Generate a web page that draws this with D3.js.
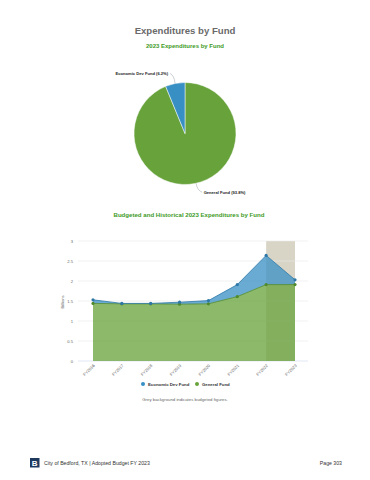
<!DOCTYPE html>
<html>
<head>
<meta charset="utf-8">
<script src="https://cdn.jsdelivr.net/npm/d3@7"></script>
<style>
  body { margin: 0; background: #fff; font-family: "Liberation Sans", Arial, sans-serif; }
  svg { display: block; }
</style>
</head>
<body>
<svg id="page" width="370" height="480"></svg>
<script>
// pie data (FY2023 share)
var pieFunds = ["Economic Dev Fund", "General Fund"];
var pieShares = [6.2, 93.8];

// historical + budgeted, in billions
var years = ["FY2016", "FY2017", "FY2018", "FY2019", "FY2020", "FY2021", "FY2022", "FY2023"];
var generalFund = [1.44, 1.43, 1.43, 1.42, 1.43, 1.61, 1.91, 1.91];
var econDevFund = [0.09, 0.01, 0.01, 0.05, 0.08, 0.30, 0.73, 0.12];
var budgetedYears = ["FY2022", "FY2023"];
var yTicks = [0, 0.5, 1, 1.5, 2, 2.5, 3];

var blue = "#388fc4", green = "#67a23a";

var svg = d3.select("#page");

// Titles
svg.append("text").attr("x", 185).attr("y", 34).attr("text-anchor", "middle")
  .attr("font-size", 9.6).attr("font-weight", "bold").attr("fill", "#6a6a6a")
  .text("Expenditures by Fund");
svg.append("text").attr("x", 185).attr("y", 48).attr("text-anchor", "middle")
  .attr("font-size", 6).attr("font-weight", "bold").attr("fill", "#3d9a1f")
  .text("2023 Expenditures by Fund");

// ---- Pie ----
var cx = 185, cy = 133.5, r = 51;
// general starts at 12 o'clock clockwise, econ dev fills the rest
var arcs = d3.pie().sort(null)(pieShares.slice().reverse());
var arc = d3.arc().innerRadius(0).outerRadius(r);
var pieG = svg.append("g").attr("transform", "translate(" + cx + "," + cy + ")");
var pieColors = [green, blue];
pieG.selectAll("path").data(arcs).enter().append("path")
  .attr("d", arc)
  .attr("fill", function(d, i) { return pieColors[i]; })
  .attr("stroke", "#fff").attr("stroke-width", 0.5);

// leader lines + labels
var econMid = (arcs[1].startAngle + arcs[1].endAngle) / 2;
var p1 = [Math.sin(econMid) * r, -Math.cos(econMid) * r];
pieG.append("path")
  .attr("d", "M" + p1[0] + "," + p1[1] + " Q" + (p1[0] - 1) + "," + (p1[1] - 8) + " " + (p1[0] - 5) + "," + (p1[1] - 10))
  .attr("fill", "none").attr("stroke", "#9aa0a6").attr("stroke-width", 0.5);
svg.append("text").attr("x", cx + p1[0] - 7).attr("y", cy + p1[1] - 8.5)
  .attr("text-anchor", "end").attr("font-size", 4.1).attr("font-weight", "bold").attr("fill", "#222")
  .text(pieFunds[0] + " (" + pieShares[0].toFixed(1) + "%)");

var genMid = Math.PI * 0.93;
var p2 = [Math.sin(genMid) * r, -Math.cos(genMid) * r];
pieG.append("path")
  .attr("d", "M" + p2[0] + "," + p2[1] + " Q" + (p2[0] + 1) + "," + (p2[1] + 7) + " " + (p2[0] + 6) + "," + (p2[1] + 9))
  .attr("fill", "none").attr("stroke", "#9aa0a6").attr("stroke-width", 0.5);
svg.append("text").attr("x", cx + p2[0] + 7.5).attr("y", cy + p2[1] + 11)
  .attr("font-size", 4.1).attr("font-weight", "bold").attr("fill", "#222")
  .text(pieFunds[1] + " (" + pieShares[1].toFixed(1) + "%)");

// ---- Area chart ----
svg.append("text").attr("x", 189).attr("y", 217).attr("text-anchor", "middle")
  .attr("font-size", 6.1).attr("font-weight", "bold").attr("fill", "#3d9a1f")
  .text("Budgeted and Historical 2023 Expenditures by Fund");

var x = d3.scalePoint().domain(years).range([93, 295]);
var y = d3.scaleLinear().domain([0, 3]).range([361, 241]);

// budgeted band
svg.append("rect")
  .attr("x", x(budgetedYears[0])).attr("y", y(3))
  .attr("width", x(budgetedYears[1]) - x(budgetedYears[0])).attr("height", y(0) - y(3))
  .attr("fill", "#d9d5c6");

// grid
svg.append("g").selectAll("line").data(yTicks).enter().append("line")
  .attr("x1", 78).attr("x2", 308)
  .attr("y1", function(d) { return y(d); }).attr("y2", function(d) { return y(d); })
  .attr("stroke", function(d) { return d === 0 ? "#ccd6eb" : "#e8e8e8"; })
  .attr("stroke-width", 0.6);

svg.append("g").selectAll("text").data(yTicks).enter().append("text")
  .attr("x", 73).attr("y", function(d) { return y(d) + 1.5; })
  .attr("text-anchor", "end").attr("font-size", 4.1).attr("fill", "#666")
  .text(function(d) { return d; });

svg.append("text").attr("transform", "translate(64,302) rotate(-90)")
  .attr("text-anchor", "middle").attr("font-size", 4.1).attr("fill", "#666")
  .text("Billions");

var rows = years.map(function(yr, i) {
  return { year: yr, general: generalFund[i], econ: econDevFund[i] };
});
var stack = d3.stack().keys(["general", "econ"])(rows);
var area = d3.area()
  .x(function(d) { return x(d.data.year); })
  .y0(function(d) { return y(d[0]); })
  .y1(function(d) { return y(d[1]); });
var line = d3.line()
  .x(function(d) { return x(d.data.year); })
  .y(function(d) { return y(d[1]); });

var seriesColors = [green, blue];
var lineColors = ["#4f8a2c", "#2e78a8"];
stack.forEach(function(s, i) {
  svg.append("path").attr("d", area(s)).attr("fill", seriesColors[i]).attr("fill-opacity", 0.75);
});
stack.forEach(function(s, i) {
  svg.append("path").attr("d", line(s)).attr("fill", "none")
    .attr("stroke", lineColors[i]).attr("stroke-width", 0.8);
  svg.append("g").selectAll("circle").data(s).enter().append("circle")
    .attr("cx", function(d) { return x(d.data.year); })
    .attr("cy", function(d) { return y(d[1]); })
    .attr("r", 1.6).attr("fill", lineColors[i]);
});

// x labels
svg.append("g").selectAll("text").data(years).enter().append("text")
  .attr("transform", function(d) { return "translate(" + (x(d) + 2) + ",366) rotate(-45)"; })
  .attr("text-anchor", "end").attr("font-size", 4.1).attr("fill", "#666")
  .text(function(d) { return d; });

// legend
var legend = [{ name: "Economic Dev Fund", c: blue, x: 143 }, { name: "General Fund", c: green, x: 197 }];
legend.forEach(function(l) {
  svg.append("circle").attr("cx", l.x).attr("cy", 384).attr("r", 2).attr("fill", l.c);
  svg.append("text").attr("x", l.x + 5).attr("y", 385.5).attr("font-size", 4.3)
    .attr("font-weight", "bold").attr("fill", "#333").text(l.name);
});
svg.append("text").attr("x", 185).attr("y", 401).attr("text-anchor", "middle")
  .attr("font-size", 4.3).attr("fill", "#666").text("Grey background indicates budgeted figures.");

// footer
svg.append("rect").attr("x", 30).attr("y", 458).attr("width", 9.5).attr("height", 9.5).attr("fill", "#1d3a5e");
svg.append("text").attr("x", 34.75).attr("y", 466).attr("text-anchor", "middle")
  .attr("font-size", 8).attr("font-weight", "bold").attr("fill", "#fff").text("B");
svg.append("text").attr("x", 44).attr("y", 465).attr("font-size", 5.2).attr("fill", "#333")
  .text("City of Bedford, TX | Adopted Budget FY 2023");
svg.append("text").attr("x", 342).attr("y", 465).attr("text-anchor", "end")
  .attr("font-size", 5.2).attr("fill", "#333").text("Page 303");
</script>
</body>
</html>
